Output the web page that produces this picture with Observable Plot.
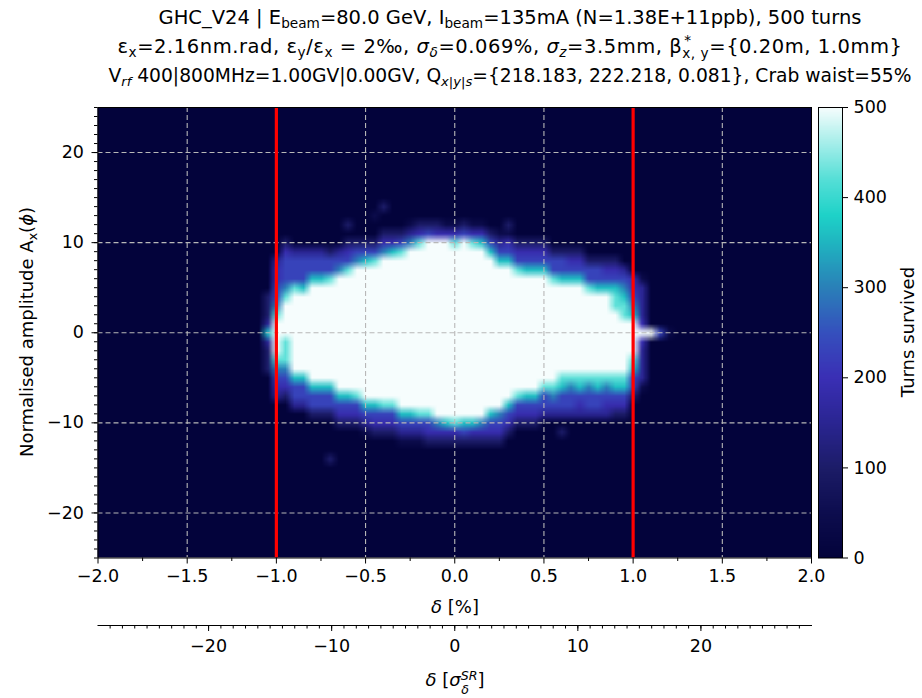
<!DOCTYPE html>
<html><head><meta charset="utf-8">
<script src="https://cdn.jsdelivr.net/npm/d3@7"></script>
<script src="https://cdn.jsdelivr.net/npm/@observablehq/plot@0.6"></script>
<style>
html,body{margin:0;padding:0;background:#fff;}
#fig{position:relative;width:922px;height:698px;font-family:"DejaVu Sans",sans-serif;color:#000;overflow:hidden;background:#fff;}
#fig svg{position:absolute;overflow:visible;}
.title{position:absolute;left:0;width:1020px;text-align:center;font-size:19.5px;white-space:nowrap;line-height:24px;}
.sub{font-size:70%;vertical-align:-0.3em;line-height:0;}
.ss{display:inline-block;position:relative;font-size:70%;line-height:0.9;}
.ss .b{position:relative;top:0.35em;}
.ss .t{position:absolute;left:0.15em;top:-0.6em;}
.ss2{display:inline-block;position:relative;font-size:70%;line-height:0.9;}
.ss2 .t{position:relative;top:-0.5em;}
.ss2 .b{position:absolute;left:0.05em;top:0.6em;}
.lbl{position:absolute;white-space:nowrap;font-size:18px;line-height:22px;transform:translate(-50%,-50%);}
.rot{transform:translate(-50%,-50%) rotate(-90deg);}
</style></head>
<body><div id="fig">
<div class="title" style="top:6px">GHC_V24 | E<span class="sub">beam</span>=80.0 GeV, I<span class="sub">beam</span>=135mA (N=1.38E+11ppb), 500 turns</div>
<div class="title" style="top:35px;letter-spacing:0.55px">ε<span class="sub">x</span>=2.16nm.rad, ε<span class="sub">y</span>/ε<span class="sub">x</span> = 2‰, <i>σ<span class="sub">δ</span></i>=0.069%, <i>σ<span class="sub">z</span></i>=3.5mm, β<span class="ss"><span class="t">*</span><span class="b">x, y</span></span>={0.20m, 1.0mm}</div>
<div class="title" style="top:64px;font-size:18.7px">V<span class="sub"><i>rf</i></span> 400|800MHz=1.00GV|0.00GV, Q<span class="sub"><i>x|y|s</i></span>={218.183, 222.218, 0.081}, Crab waist=55%</div>
<div class="lbl rot" style="left:27px;top:332px">Normalised amplitude A<span class="sub">x</span>(<i>ϕ</i>)</div>
<div class="lbl" style="left:455px;top:607px"><i>δ</i> [%]</div>
<div class="lbl" style="left:455px;top:680px"><i>δ</i> [<i>σ</i><span class="ss2"><i class="t">SR</i><i class="b">δ</i></span>]</div>
<div class="lbl rot" style="left:908px;top:332px">Turns survived</div>
</div>
<script>
// ---- data ----
const sigmaDelta = 0.069;                 // % (from title)
const levelTurns = [0, 45, 100, 150, 190, 230, 300, 360, 425, 500]; // turns for level codes 0..9
const deltaColumns = [-1.00,-0.95,-0.90,-0.85,-0.80,-0.75,-0.70,-0.65,-0.60,-0.55,-0.50,-0.45,-0.40,-0.35,-0.30,-0.25,-0.20,-0.15,-0.10,-0.05,0.00,0.05,0.10,0.15,0.20,0.25,0.30,0.35,0.40,0.45,0.50,0.55,0.60,0.65,0.70,0.75,0.80,0.85,0.90,0.95,1.00];
const whiteTop    = [1,3,4,4,5,5,5,6,6,7,7,7,8,8,8,9,9,10,10,10,9,10,9,9,8,7,7,6,6,6,6,5,5,5,5,4,4,4,2,1,1];
const whiteBottom = [-2,0,-4,-4,-5,-5,-5,-6,-6,-6,-7,-7,-7,-7,-8,-8,-8,-8,-9,-9,-9,-9,-9,-9,-8,-8,-7,-6,-6,-6,-5,-5,-4,-4,-4,-4,-4,-4,-4,-4,-2];
const fringeAbove = ["8655443","8655542","85553","75553","7553","7553","8552","653","8542","652","752","852","642","742","852","631","841","52","42","41","841","52","841","741","752","7531","7541","8542","7542","7542","7542","8552","7552","7542","7542","8552","7552","7542","887542","887653","76544"];
const fringeBelow = ["86543","8886542","7553","7553","7552","7552","7552","7542","7542","8542","7531","7542","8542","8542","7531","7531","8531","8542","642","742","842","752","742","642","7542","6542","7542","8542","7542","7542","8553","8653","87553","86553","87543","86553","87553","86543","87542","87542","87552"];
const extraDelta = [-1.05,-1.05,-1.05,-1.05,-1.05,-1.05,-1.05,-1.05,-1.05, 1.05,1.05,1.05,1.05,1.05,1.05,1.05,1.05,1.05,1.05,1.05,1.05,1.05, 1.10,1.15,1.20, -0.40,-0.45,-0.60,-0.20,0.30,-0.70,0.60];
const extraAmp   = [0,1,-1,2,3,4,-2,-3,-4, 0,1,-1,2,3,4,5,-2,-3,-4,-5,6,-6, 0,0,0, 14,13,12,12,12,-14,-11];
const extraLevel = [7,3,3,2,2,2,2,2,2, 9,4,4,3,3,3,3,3,3,3,3,1,1, 9,5,1, 2,1,2,2,2,2,2];
const redLines = [-1, 1];
const xTicks = [-2, -1.5, -1, -0.5, 0, 0.5, 1, 1.5, 2];
const xMinorTicks = [-1.75, -1.25, -0.75, -0.25, 0.25, 0.75, 1.25, 1.75];
const yTicks = [-20, -10, 0, 10, 20];
const sTicks = [-20, -10, 0, 10, 20];
const cTicks = [0, 100, 200, 300, 400, 500];
const colorStops = [0, 50, 100, 150, 200, 250, 300, 350, 380, 420, 460, 500];
const colorRange = ["#03033b","#0d0d4e","#1c1c68","#2a2592","#3a2fb5","#3550bd","#2a80b8","#1fb5c0","#1ed2c8","#55dfd7","#a5eeea","#f6fdfd"];

// ---- assemble grid (cells 0.05 % x 1 unit) ----
const nx = 81, ny = 51;
const grid = new Array(nx * ny).fill(0);
function setCell(delta, amp, level) {
  const i = Math.round((delta + 2) / 0.05), j = Math.round(25 - amp);
  if (i >= 0 && i < nx && j >= 0 && j < ny) grid[j * nx + i] = levelTurns[level];
}
deltaColumns.forEach((d, c) => {
  for (let a = whiteBottom[c]; a <= whiteTop[c]; a++) setCell(d, a, 9);
  [...fringeAbove[c]].forEach((ch, k) => setCell(d, whiteTop[c] + 1 + k, +ch));
  [...fringeBelow[c]].forEach((ch, k) => setCell(d, whiteBottom[c] - 1 - k, +ch));
});
extraDelta.forEach((d, k) => setCell(d, extraAmp[k], extraLevel[k]));

const minus = s => String(s).replace("-", "\u2212");
const color = {type: "linear", domain: colorStops, range: colorRange, interpolate: "rgb", clamp: true};
const font = {fontFamily: "DejaVu Sans, sans-serif", fontSize: "17.5px", color: "#000", background: "transparent", overflow: "visible"};
const fig = document.getElementById("fig");

const main = Plot.plot({
  width: 922, height: 530,
  marginLeft: 97.5, marginRight: 111, marginTop: 7, marginBottom: 72.5,
  x: {domain: [-2, 2], label: null},
  y: {domain: [-25, 25], label: null},
  color,
  style: font,
  marks: [
    Plot.raster(grid, {width: nx, height: ny, x1: -2.025, x2: 2.025, y1: 25.5, y2: -25.5, fill: Plot.identity, clip: true, imageRendering: "auto"}),
    Plot.ruleX(xTicks.slice(1, -1), {stroke: "#b8b8b8", strokeWidth: 1.1, strokeDasharray: "5,3"}),
    Plot.ruleY(yTicks, {stroke: "#b8b8b8", strokeWidth: 1.1, strokeDasharray: "5,3"}),
    Plot.ruleX(redLines, {stroke: "#ff0000", strokeWidth: 3.2}),
    Plot.frame({stroke: "#000", strokeWidth: 1}),
    Plot.axisX(xTicks, {tickSize: 6, tickPadding: 6, tickFormat: d => minus(d.toFixed(1))}),
    Plot.axisX(xMinorTicks, {tickSize: 3.5, tickFormat: () => ""}),
    Plot.axisY(yTicks, {tickSize: 6, tickPadding: 8, tickFormat: d => minus(d)}),
    Plot.axisY(d3.range(-25, 26), {tickSize: 3.5, tickFormat: () => ""})
  ]
});
main.style.left = "0px"; main.style.top = "100px";
fig.appendChild(main);

const cbar = Plot.plot({
  width: 120, height: 470,
  marginLeft: 18, marginRight: 78, marginTop: 7, marginBottom: 12.5,
  x: {domain: [0, 1], axis: null},
  y: {domain: [0, 500], label: null},
  color,
  style: font,
  marks: [
    Plot.raster({x1: 0, x2: 1, y1: 0, y2: 500, width: 1, height: 250, fill: (x, y) => y}),
    Plot.frame({stroke: "#000", strokeWidth: 1}),
    Plot.axisY(cTicks, {anchor: "right", tickSize: 5, tickPadding: 6})
  ]
});
cbar.style.left = "800px"; cbar.style.top = "100px";
fig.appendChild(cbar);

const sec = Plot.plot({
  width: 922, height: 60,
  marginLeft: 97.5, marginRight: 111, marginTop: 0, marginBottom: 35,
  x: {domain: [-2 / sigmaDelta, 2 / sigmaDelta], label: null},
  y: {domain: [0, 1], axis: null},
  style: font,
  marks: [
    Plot.frame({anchor: "bottom", stroke: "#000", strokeWidth: 1}),
    Plot.axisX(sTicks, {tickSize: 6, tickPadding: 8, tickFormat: d => minus(d)}),
    Plot.axisX(d3.range(-28, 29), {tickSize: 3.5, tickFormat: () => ""})
  ]
});
sec.style.left = "0px"; sec.style.top = "600px";
fig.appendChild(sec);
</script>
</body></html>
